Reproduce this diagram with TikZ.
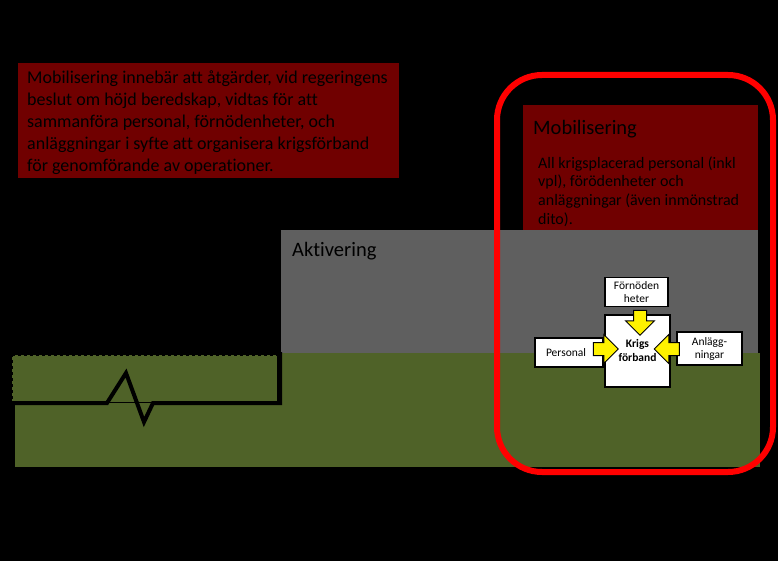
\documentclass[tikz,border=0pt]{standalone}
\usepackage{fontspec}
\setmainfont[Ligatures=NoCommon]{Carlito}
\usetikzlibrary{shapes.arrows}
\definecolor{dred}{RGB}{112,0,0}
\definecolor{dgray}{RGB}{95,95,95}
\definecolor{olivegr}{RGB}{79,98,40}
\begin{document}
\begin{tikzpicture}[x=1pt,y=-1pt,
  box/.style={draw=black,line width=1.5pt,fill=white,inner sep=0pt,align=center,font=\fontsize{11.5}{13}\selectfont},
  fatarrow/.style={single arrow,draw=black,line width=1pt,fill=yellow,inner sep=6pt,
    single arrow head extend=8pt,minimum height=25pt},
  txt/.style={inner sep=0pt,align=left,text=black}]
\fill[black] (0,0) rectangle (778,561);
\useasboundingbox (0,0) rectangle (778,561);
% top-left text box
\fill[dred] (18,63) rectangle (399,178);
\node[txt,anchor=north west,font=\fontsize{18}{21.8}\selectfont] (deftext) at (27,71)
 {Mobilisering innebär att åtgärder, vid regeringens\\
  beslut om höjd beredskap, vidtas för att\\
  sammanföra personal, förnödenheter, och\\
  anläggningar  i syfte att organisera krigsförband\\
  för genomförande av operationer.};
% green areas
\fill[olivegr] (15,403) rectangle (760,467);
\fill[olivegr] (280,353) rectangle (760,404);
\fill[olivegr] (13,356) rectangle (277,402);
\draw[olivegr,line width=1.8pt,dashed] (13,402) -- (13,356) -- (277,356);
% gray area
\fill[dgray] (281,230) rectangle (758,353);
\node[txt,anchor=west,font=\fontsize{20.5}{24}\selectfont] (akt) at (292,251) {Aktivering};
% right dark red box
\fill[dred] (523,105) rectangle (758,230);
\node[txt,anchor=west,font=\fontsize{20.5}{24}\selectfont] (mobt) at (533,129) {Mobilisering};
\node[txt,anchor=north west,font=\fontsize{16}{18.6}\selectfont] (mobtext) at (538,156.5)
 {All krigsplacerad personal (inkl\\
  vpl), förödenheter  och\\
  anläggningar (även inmönstrad\\
  dito).};
% boxes
\node[box,minimum width=63pt,minimum height=29pt] (forn) at (636.5,292) {Förnöden\\heter};
\node[box,minimum width=65pt,minimum height=72pt,font=\fontsize{11.5}{14}\selectfont\bfseries] (krigs) at (637.5,351) {Krigs\\förband};
\node[box,minimum width=68pt,minimum height=29pt] (pers) at (569,352.5) {Personal\hspace*{6pt}};
\node[box,minimum width=65pt,minimum height=33pt] (anl) at (709.5,348.5) {Anlägg-\\ningar};
% fat arrows
\node[fatarrow,rotate=-90] (arrF) at (640,319.5) {};
\node[fatarrow] (arrP) at (602.5,349) {};
\node[fatarrow,rotate=180] (arrA) at (670,349) {};
% black zigzag line
\coordinate (z0) at (12,403);
\coordinate (z5) at (280,352);
\draw[black,line width=4pt,line join=miter] (z0) -- (107,403) -- (126,373) -- (144,422) -- (153,403) -- (280,403) -- (z5);
% red rounded frame
\draw[red,line width=6pt,rounded corners=45pt] (497,75) rectangle (773,472);
\end{tikzpicture}
\end{document}
